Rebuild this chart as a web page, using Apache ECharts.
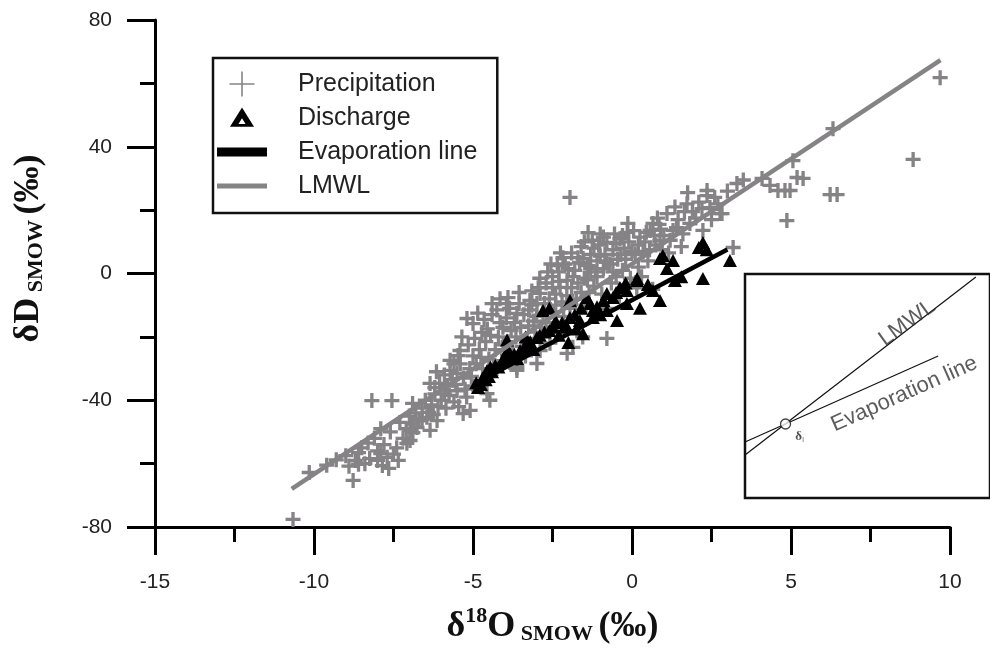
<!DOCTYPE html>
<html>
<head>
<meta charset="utf-8">
<script src="https://cdn.jsdelivr.net/npm/echarts@6/dist/echarts.min.js"></script>
<style>
html,body{margin:0;padding:0;background:#fff;}
#chart{width:990px;height:662px;}
</style>
</head>
<body>
<div id="chart"></div>
<script>
// ---- Data ----
var xTicks = [-15, -10, -5, 0, 5, 10];
var yTicks = [-80, -40, 0, 40, 80];

var precipitation = [
  [-10.66,-77.6],[-10.15,-62.8],[-8.77,-65.3],[-9.6,-60.5],[-9.3,-58.8],[-9.0,-57.5],[-8.9,-60.8],
  [-8.7,-59.0],[-8.6,-60.2],[-8.4,-60.0],[-8.25,-58.4],[-8.0,-59.0],[-7.85,-60.6],[-7.65,-61.5],[-7.35,-59.0],
  [-7.9,-56.8],[-8.5,-55.0],[-8.3,-53.5],[-8.1,-52.0],[-7.8,-54.0],[-7.6,-50.0],[-7.5,-57.0],[-7.4,-55.0],
  [-7.9,-49.0],[-8.18,-40.1],[-7.55,-40.1],[-8.6,-56.5],[-8.0,-56.0],[-7.7,-58.0],
  [-7.2,-52.0],[-7.1,-49.0],[-7.3,-47.0],[-7.08,-53.6],[-6.98,-49.5],[-6.76,-48.6],[-6.98,-52.7],[-6.89,-50.2],
  [-6.35,-49.5],[-6.13,-46.4],[-6.45,-45.4],[-7.0,-45.0],[-6.8,-44.0],[-6.6,-42.5],[-6.5,-40.0],[-6.3,-41.5],
  [-6.2,-38.0],[-6.7,-46.5],[-6.4,-43.8],[-6.1,-42.0],[-6.9,-41.0],[-6.05,-34.7],[-6.35,-34.7],[-6.2,-36.0],
  [-6.9,-47.5],[-6.6,-46.0],[-6.25,-44.5],[-6.0,-40.0],[-5.75,-38.5],[-5.55,-35.0],[-5.9,-32.0],[-6.15,-31.0],
  [-5.45,-42.0],[-5.25,-36.5],[-5.05,-32.5],[-5.6,-28.5],
  [-5.9,-38.0],[-5.8,-35.5],[-5.72,-30.6],[-5.72,-27.4],[-5.6,-40.5],[-5.5,-37.0],[-5.47,-25.9],[-5.41,-24.3],
  [-5.31,-44.2],[-5.09,-43.2],[-5.2,-39.0],[-5.3,-33.0],[-5.1,-30.0],[-5.0,-35.5],[-5.5,-31.5],[-5.65,-33.5],
  [-5.19,-14.2],[-5.0,-15.8],[-5.35,-20.0],[-5.15,-22.5],[-5.0,-26.0],[-5.85,-42.5],[-5.4,-28.5],
  [-4.72,-18.6],[-4.47,-40.0],[-4.56,-37.9],[-4.4,-9.5],[-4.15,-15.5],[-4.06,-17.0],[-4.8,-24.0],[-4.6,-21.5],
  [-4.5,-27.0],[-4.3,-24.0],[-4.2,-20.0],[-4.4,-13.0],[-4.7,-30.0],[-4.9,-28.5],[-4.1,-27.5],[-4.55,-17.5],
  [-4.25,-30.0],[-4.85,-12.5],
  [-4.95,-20.5],[-4.75,-26.5],[-4.65,-14.5],[-4.45,-19.5],[-4.35,-29.5],[-4.25,-11.5],[-4.05,-22.5],[-3.95,-9.5],
  [-3.85,-28.0],[-3.65,-20.0],[-3.55,-6.0],[-3.35,-26.0],[-3.25,-16.5],[-3.15,-10.0],[-3.0,-13.5],[-4.15,-8.0],
  [-3.9,-7.6],[-3.62,-12.6],[-3.21,-8.5],[-3.62,-30.6],[-3.62,-29.7],[-3.9,-21.5],[-3.8,-18.0],[-3.7,-15.5],
  [-3.5,-17.0],[-3.4,-13.0],[-3.3,-20.5],[-3.1,-15.0],[-3.85,-11.0],[-3.55,-9.5],[-3.25,-11.5],[-3.75,-25.0],
  [-3.45,-23.0],[-3.15,-5.5],[-3.05,-18.5],[-3.95,-14.0],
  [-2.99,-9.5],[-2.89,-6.3],[-2.26,-4.4],[-2.04,-2.2],[-2.89,-24.3],[-2.99,-28.4],[-2.58,-22.0],[-2.04,-25.2],
  [-2.8,-12.5],[-2.7,-3.0],[-2.6,-8.0],[-2.5,-1.0],[-2.4,-6.5],[-2.3,0.5],[-2.2,-9.0],[-2.1,3.0],[-2.17,5.0],
  [-2.7,-15.5],[-2.45,-12.0],[-2.35,2.5],[-2.9,-1.5],[-2.55,3.0],[-2.15,-13.5],[-2.05,-7.0],
  [-2.95,-4.5],[-2.85,-17.0],[-2.75,-9.5],[-2.65,0.5],[-2.5,-4.5],[-2.4,-10.0],[-2.3,-2.5],[-2.25,6.5],
  [-2.0,1.5],[-1.95,-11.0],[-1.85,-1.0],[-1.7,5.0],[-1.6,-6.0],[-1.5,10.0],[-1.4,-2.0],[-1.3,1.5],
  [-1.2,8.0],[-1.1,-1.0],[-1.0,5.5],[-1.0,12.5],
  [-1.95,24.0],[-1.38,12.9],[-1.54,4.7],[-1.86,-23.3],[-1.9,6.5],[-1.8,1.0],[-1.7,-3.0],[-1.6,8.5],[-1.5,-1.5],
  [-1.4,2.5],[-1.3,6.0],[-1.2,-4.0],[-1.1,4.0],[-1.05,9.0],[-1.75,-8.0],[-1.45,-10.0],[-1.25,10.5],[-1.65,3.5],
  [-1.35,-6.0],[-1.15,0.5],[-1.9,-4.5],[-1.55,-20.0],
  [-0.79,9.8],[-0.38,11.0],[-0.13,15.8],[-0.79,-20.5],[-0.9,1.5],[-0.85,6.0],[-0.7,3.0],[-0.6,7.5],[-0.5,-1.0],
  [-0.45,4.5],[-0.3,1.0],[-0.25,8.0],[-0.2,4.5],[-0.1,10.0],[-0.05,-1.5],[-0.95,-6.5],[-0.65,-3.0],[-0.4,-7.0],
  [-0.15,13.0],[-0.55,12.5],[-0.35,6.0],[-0.9,11.5],[-0.75,-11.0],
  [-0.8,3.5],[-0.6,0.5],[-0.5,9.5],[-0.3,12.0],[-0.2,-3.5],[0.0,7.0],[0.05,13.5],[0.2,9.0],[0.4,10.0],
  [0.55,7.5],[0.7,12.0],[0.85,15.5],
  [0.1,6.0],[0.2,2.0],[0.25,11.5],[0.35,7.0],[0.45,13.0],[0.57,13.6],[0.66,15.8],[0.88,10.4],[0.5,4.0],
  [0.75,9.0],[0.15,-4.5],[0.9,14.0],[0.3,-1.0],[0.65,-5.0],[0.8,17.5],[0.95,7.5],
  [1.1,18.9],[1.29,13.6],[1.73,22.0],[1.82,15.8],[1.2,10.5],[1.45,17.0],[1.6,12.5],[1.9,19.5],[1.35,21.0],
  [1.55,8.5],[1.15,6.5],[1.75,25.5],
  [1.0,12.0],[1.4,14.5],[1.65,19.5],[2.0,17.5],[2.2,20.5],[2.5,17.0],[2.7,22.0],
  [2.36,26.2],[2.23,13.6],[2.45,20.8],[2.77,18.9],[3.18,8.2],[3.3,28.4],[2.36,24.6],[2.83,18.9],[2.1,22.5],
  [2.6,24.0],[3.0,26.0],[3.5,29.5],
  [4.09,30.0],[4.34,27.8],[4.59,26.2],[4.81,26.2],[4.97,26.2],[5.19,30.3],[5.38,30.0],[5.06,35.6],[6.32,45.7],
  [4.87,16.7],[6.23,24.9],[6.45,24.9],[8.84,36.0],[9.69,61.8]
];

var discharge = [
  [2.23,9.8],[2.1,8.2],[2.35,7.5],[3.08,4.1],[2.23,-1.6],[0.88,4.7],[1.29,4.1],[1.1,1.6],[1.35,-2.2],[0.97,5.7],
  [0.88,-8.5],[0.25,-11.0],[0.16,-1.6],[-0.16,-5.4],[-0.6,-7.6],[-0.47,-14.8],[-1.23,-11.7],[-1.64,-14.8],
  [-2.04,-17.0],[0.66,-5.4],[-0.16,-9.5],[-1.54,-19.0],[-2.0,-21.8],[-1.23,-13.9],[-0.79,-11.7],[-0.38,-4.4],
  [0.16,-2.2],[-2.6,-11.0],[-2.8,-11.7],[-3.93,-21.0],[-4.84,-36.0],[-4.56,-30.6],[-4.06,-27.4],[-3.52,-24.3],
  [-2.99,-20.2],[-2.48,-17.0],[-1.95,-13.9],[-1.32,-9.5],[-0.79,-6.3],[-1.42,-7.6],[-1.95,-8.5],[-4.7,-33.0],
  [-4.3,-29.0],[-3.8,-26.5],[-3.3,-22.5],[-2.75,-18.5],[-2.2,-15.5],[-4.9,-34.5],[-4.5,-32.5],[-3.6,-27.0],
  [-3.1,-24.0],[-2.3,-19.5],[0.5,-3.5],[1.55,-1.0],
  [-4.75,-35.0],[-4.6,-33.5],[-4.4,-31.0],[-4.2,-29.5],[-4.0,-26.0],[-3.7,-25.5],[-3.4,-23.5],[-3.2,-21.5],
  [-2.9,-19.5],[-2.6,-18.0],[-2.4,-15.0],[-2.1,-16.5],[-1.8,-13.0],[-1.6,-11.0],[-1.1,-10.5],[-0.9,-8.5],
  [-0.5,-6.0],[-0.2,-3.0],[-3.9,-24.0],[-4.45,-29.5],[-3.35,-20.0],[-1.75,-17.5],[-1.0,-13.0]
];

var lmwlLine = [[-10.7,-68.0],[9.7,67.3]];
var evapLine = [[-4.9,-34.5],[3.0,7.6]];

// Inset (schematic) values
var insetLmwl = [[0,4.3],[24.5,22.1]];
var insetEvap = [[0,5.6],[20.5,14.2]];
var insetPoint = [[4.3,7.4]];
var insetLabels = [
  {value:[17.2,17.5], text:'LMWL', rotate:36},
  {value:[16.9,10.4], text:'Evaporation line', rotate:24}
];
var insetPointLabel = [[5.8,6.1]];

// ---- Chart ----
var GREY = '#858385';
var sans = "'Liberation Sans', Arial, sans-serif";
var serif = "'Liberation Serif', 'Times New Roman', serif";
var plusPath = 'path://M3.9,0H6.1V3.9H10V6.1H6.1V10H3.9V6.1H0V3.9H3.9Z';
var plusLegend = 'path://M11.7,0H13.3V25H11.7Z M0,11.7H25V13.3H0Z';
var triLegend = 'path://M0,-1 M0,12 M6.25,0 L12.5,10 L0,10 Z M6.25,5.6 L4.4,8.6 L8.1,8.6 Z';
var thickBar = 'path://M0,0H48V7H0Z';
var thinBar = 'path://M0,0H48V3H0Z';

var chart = echarts.init(document.getElementById('chart'), null, {renderer:'canvas'});

var nameRich = {
  d: {fontFamily: serif, fontWeight: 'bold', fontSize: 36, lineHeight: 40, color:'#111', verticalAlign:'bottom'},
  s: {fontFamily: serif, fontWeight: 'bold', fontSize: 22, lineHeight: 22, color:'#111', verticalAlign:'top'},
  m: {fontFamily: serif, fontWeight: 'bold', fontSize: 22, lineHeight: 30, color:'#111', verticalAlign:'bottom'}
};

chart.setOption({
  animation: false,
  backgroundColor: '#fff',
  grid: [
    {left:155, right:40, top:20, bottom:135, containLabel:false},
    {left:745, top:274, width:260, height:224, show:true, borderColor:'#111', borderWidth:2.5, backgroundColor:'transparent'}
  ],
  legend: {
    left: 213, top: 58, orient: 'vertical',
    padding: [12, 20, 13, 4],
    borderColor: '#111', borderWidth: 2.5,
    itemWidth: 48, itemHeight: 25, itemGap: 6,
    selectedMode: false,
    textStyle: {fontFamily: sans, fontSize: 25, color:'#222', lineHeight: 28, padding:[0,0,0,27]},
    data: [
      {name:'Precipitation', icon: plusLegend},
      {name:'Discharge', icon: triLegend},
      {name:'Evaporation line', icon: thickBar, itemStyle:{color:'#000'}},
      {name:'LMWL', icon: thinBar, itemStyle:{color:GREY}}
    ]
  },
  xAxis: [
    {
      gridIndex:0, type:'value', min:-15, max:10, interval:5,
      axisLine:{onZero:false, lineStyle:{color:'#000', width:3}},
      axisTick:{length:28, lineStyle:{color:'#000', width:3}},
      minorTick:{show:true, splitNumber:2, length:15, lineStyle:{color:'#000', width:3}},
      splitLine:{show:false},
      axisLabel:{margin:45, fontFamily:sans, fontSize:21, color:'#222',
        formatter:function(v){return xTicks.indexOf(v) >= 0 ? String(v) : '';}},
      name:'{d|δ}{s|18}{d|O}{m| SMOW }{d|(‰)}',
      nameLocation:'middle', nameGap:78,
      nameTextStyle:{rich:nameRich}
    },
    {gridIndex:1, type:'value', min:0, max:26, show:false}
  ],
  yAxis: [
    {
      gridIndex:0, type:'value', min:-80, max:80, interval:40,
      axisLine:{onZero:false, lineStyle:{color:'#000', width:3}},
      axisTick:{length:28, lineStyle:{color:'#000', width:3}},
      minorTick:{show:true, splitNumber:2, length:15, lineStyle:{color:'#000', width:3}},
      splitLine:{show:false},
      axisLabel:{margin:43, fontFamily:sans, fontSize:21, color:'#222',
        formatter:function(v){return yTicks.indexOf(v) >= 0 ? String(v) : '';}},
      name:'{d|δD}{m| SMOW }{d|(‰)}',
      nameLocation:'middle', nameGap:108, nameRotate:90,
      nameTextStyle:{rich:nameRich, padding:[0,0,0,50]}
    },
    {gridIndex:1, type:'value', min:0, max:22.4, show:false}
  ],
  series: [
    {
      name:'Precipitation', type:'scatter', xAxisIndex:0, yAxisIndex:0,
      data: precipitation, symbol: plusPath, symbolSize: 15,
      itemStyle:{color:GREY, opacity:1}, z:2
    },
    {
      name:'Discharge', type:'scatter', xAxisIndex:0, yAxisIndex:0,
      data: discharge, symbol:'triangle', symbolSize:[14,13],
      itemStyle:{color:'#000', opacity:1}, z:3
    },
    {
      name:'LMWL', type:'lines', coordinateSystem:'cartesian2d', xAxisIndex:0, yAxisIndex:0,
      data: [{coords: lmwlLine}], symbol:'none',
      lineStyle:{color:GREY, width:4.5, opacity:1, curveness:0}, itemStyle:{color:GREY}, z:4
    },
    {
      name:'Evaporation line', type:'lines', coordinateSystem:'cartesian2d', xAxisIndex:0, yAxisIndex:0,
      data: [{coords: evapLine}], symbol:'none',
      lineStyle:{color:'#000', width:4.5, opacity:1, curveness:0}, itemStyle:{color:'#000'}, z:5
    },
    {
      name:'inset LMWL', type:'line', xAxisIndex:1, yAxisIndex:1,
      data: insetLmwl, symbol:'none', lineStyle:{color:'#111', width:1.2}, silent:true, z:6
    },
    {
      name:'inset Evap', type:'line', xAxisIndex:1, yAxisIndex:1,
      data: insetEvap, symbol:'none', lineStyle:{color:'#111', width:1.2}, silent:true, z:6
    },
    {
      name:'inset point', type:'scatter', xAxisIndex:1, yAxisIndex:1,
      data: insetPoint, symbol:'circle', symbolSize:10,
      itemStyle:{color:'#fff', borderColor:'#111', borderWidth:1.3}, silent:true, z:7
    },
    {
      name:'inset labels', type:'scatter', xAxisIndex:1, yAxisIndex:1,
      symbolSize:0, silent:true, z:8,
      data: insetLabels.map(function(d){
        return {value:d.value, label:{show:true, position:'inside', formatter:d.text, rotate:d.rotate,
          fontFamily:sans, fontSize:22, color:'#333'}};
      })
    },
    {
      name:'inset point label', type:'scatter', xAxisIndex:1, yAxisIndex:1,
      symbolSize:0, silent:true, z:8,
      data: insetPointLabel,
      label:{show:true, position:'inside', formatter:'{a|δ}{b|I}',
        rich:{a:{fontFamily:serif, fontWeight:'bold', fontSize:13, color:'#222'},
              b:{fontFamily:sans, fontSize:8, color:'#555', verticalAlign:'bottom', padding:[6,0,0,0]}}}
    }
  ]
});
</script>
</body>
</html>
